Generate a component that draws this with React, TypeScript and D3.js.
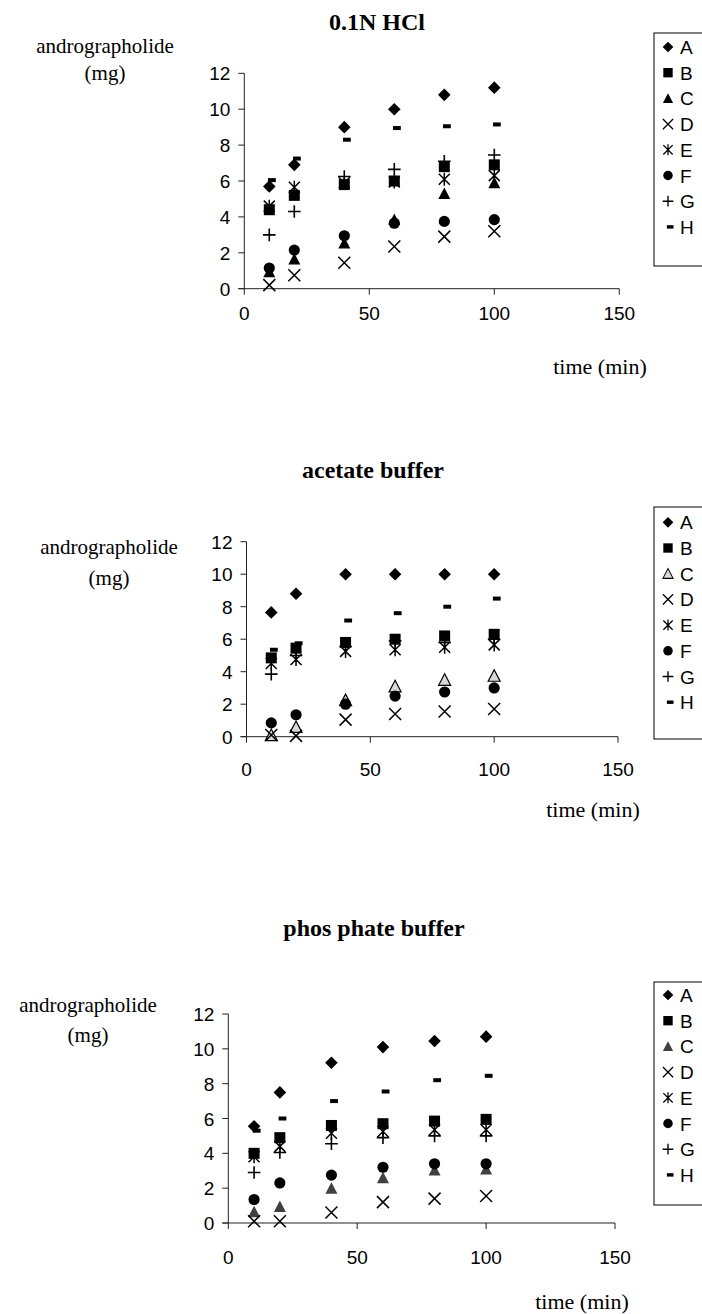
import React from "react";
import * as d3 from "d3";

const TIMES = [10, 20, 40, 60, 80, 100];
const SERIES = ["A", "B", "C", "D", "E", "F", "G", "H"];
const X_TICKS = [0, 50, 100, 150];
const Y_TICKS = [0, 2, 4, 6, 8, 10, 12];

// 0.1N HCl
const HCL_A = [5.7, 6.9, 9.0, 10.0, 10.8, 11.2];
const HCL_B = [4.4, 5.2, 5.8, 6.0, 6.8, 6.9];
const HCL_C = [0.95, 1.65, 2.55, 3.85, 5.3, 5.9];
const HCL_D = [0.2, 0.75, 1.45, 2.35, 2.9, 3.2];
const HCL_E = [4.6, 5.65, 5.9, 5.95, 6.1, 6.3];
const HCL_F = [1.15, 2.15, 2.95, 3.65, 3.75, 3.85];
const HCL_G = [3.0, 4.3, 6.25, 6.65, 7.1, 7.45];
const HCL_H = [6.05, 7.25, 8.3, 8.95, 9.05, 9.15];

// acetate buffer
const ACE_A = [7.65, 8.8, 10.0, 10.0, 10.0, 10.0];
const ACE_B = [4.85, 5.45, 5.8, 6.0, 6.2, 6.3];
const ACE_C = [0.1, 0.6, 2.25, 3.1, 3.5, 3.75];
const ACE_D = [0.1, 0.05, 1.05, 1.4, 1.55, 1.7];
const ACE_E = [4.5, 4.75, 5.25, 5.35, 5.5, 5.65];
const ACE_F = [0.85, 1.35, 2.0, 2.5, 2.75, 3.0];
const ACE_G = [3.85, 5.0, 5.55, 5.9, 5.8, 6.0];
const ACE_H = [5.35, 5.75, 7.15, 7.6, 8.0, 8.5];

// phosphate buffer
const PHO_A = [5.55, 7.5, 9.2, 10.1, 10.45, 10.7];
const PHO_B = [4.0, 4.9, 5.6, 5.7, 5.85, 5.95];
const PHO_C = [0.65, 0.95, 2.0, 2.6, 3.05, 3.1];
const PHO_D = [0.1, 0.1, 0.6, 1.2, 1.4, 1.55];
const PHO_E = [3.8, 4.4, 5.15, 5.25, 5.35, 5.35];
const PHO_F = [1.35, 2.3, 2.75, 3.2, 3.4, 3.4];
const PHO_G = [2.9, 4.05, 4.55, 4.9, 5.0, 5.0];
const PHO_H = [5.3, 6.0, 7.0, 7.55, 8.2, 8.45];

const SERIF = "'Liberation Serif', 'Times New Roman', serif";
const SANS = "'Liberation Sans', Arial, sans-serif";

type Tri = { fill: string; stroke: string };

function Marker({ type, x, y, k = 1, tri }: { type: string; x: number; y: number; k?: number; tri: Tri }) {
  const t = `translate(${x},${y}) scale(${k})`;
  switch (type) {
    case "A":
      return <path transform={t} d="M0,-6.3L6.3,0L0,6.3L-6.3,0Z" fill="#000" />;
    case "B":
      return <rect transform={t} x={-5.5} y={-5.5} width={11} height={11} fill="#000" />;
    case "C":
      return (
        <path
          transform={t}
          d="M0,-6L6,5.5L-6,5.5Z"
          fill={tri.fill}
          stroke={tri.stroke}
          strokeWidth={tri.stroke === "none" ? 0 : 1.2}
        />
      );
    case "D":
      return <path transform={t} d="M-6,-6L6,6M-6,6L6,-6" stroke="#000" strokeWidth={1.5} fill="none" />;
    case "E":
      return (
        <path transform={t} d="M-5.5,-5.5L5.5,5.5M-5.5,5.5L5.5,-5.5M0,-6.5L0,6.5" stroke="#000" strokeWidth={1.5} fill="none" />
      );
    case "F":
      return <circle transform={t} r={5.6} fill="#000" />;
    case "G":
      return <path transform={t} d="M-6.3,0L6.3,0M0,-6.3L0,6.3" stroke="#000" strokeWidth={1.6} fill="none" />;
    case "H":
      return <rect transform={t} x={-1.3} y={-2} width={7.8} height={4} fill="#000" />;
    default:
      return null;
  }
}

type PanelCfg = {
  title: string;
  titleX: number;
  titleY: number;
  yLabX: number;
  yLab1Y: number;
  yLab2Y: number;
  x0: number;
  x150: number;
  y0: number;
  y12: number;
  xTickY: number;
  xTitleX: number;
  xTitleY: number;
  legTop: number;
  legBottom: number;
  legFirst: number;
  tri: Tri;
  data: number[][];
};

const PANELS: PanelCfg[] = [
  {
    title: "0.1N HCl",
    titleX: 377,
    titleY: 30,
    yLabX: 105,
    yLab1Y: 53,
    yLab2Y: 80,
    x0: 244.3,
    x150: 619.3,
    y0: 288.7,
    y12: 73.3,
    xTickY: 320,
    xTitleX: 600,
    xTitleY: 374,
    legTop: 33,
    legBottom: 266,
    legFirst: 47,
    tri: { fill: "#000", stroke: "none" },
    data: [HCL_A, HCL_B, HCL_C, HCL_D, HCL_E, HCL_F, HCL_G, HCL_H],
  },
  {
    title: "acetate buffer",
    titleX: 373,
    titleY: 478,
    yLabX: 109,
    yLab1Y: 554,
    yLab2Y: 585,
    x0: 246.5,
    x150: 618,
    y0: 736.7,
    y12: 541.7,
    xTickY: 776,
    xTitleX: 593,
    xTitleY: 817,
    legTop: 507,
    legBottom: 739,
    legFirst: 522.3,
    tri: { fill: "#d8d8d8", stroke: "#000" },
    data: [ACE_A, ACE_B, ACE_C, ACE_D, ACE_E, ACE_F, ACE_G, ACE_H],
  },
  {
    title: "phos phate buffer",
    titleX: 374,
    titleY: 936,
    yLabX: 88,
    yLab1Y: 1012,
    yLab2Y: 1042,
    x0: 228.3,
    x150: 615,
    y0: 1223,
    y12: 1014,
    xTickY: 1264,
    xTitleX: 582,
    xTitleY: 1309,
    legTop: 982,
    legBottom: 1205,
    legFirst: 995,
    tri: { fill: "#404040", stroke: "none" },
    data: [PHO_A, PHO_B, PHO_C, PHO_D, PHO_E, PHO_F, PHO_G, PHO_H],
  },
];

function Panel({ cfg }: { cfg: PanelCfg }) {
  const x = d3.scaleLinear().domain([0, 150]).range([cfg.x0, cfg.x150]);
  const y = d3.scaleLinear().domain([0, 12]).range([cfg.y0, cfg.y12]);
  const axisColor = "#222";
  const legStep = 25.7;
  return (
    <g>
      <text x={cfg.titleX} y={cfg.titleY} textAnchor="middle" fontFamily={SERIF} fontWeight="bold" fontSize={24} fill="#000">
        {cfg.title}
      </text>
      <text x={cfg.yLabX} y={cfg.yLab1Y} textAnchor="middle" fontFamily={SERIF} fontSize={21} fill="#000">
        andrographolide
      </text>
      <text x={cfg.yLabX} y={cfg.yLab2Y} textAnchor="middle" fontFamily={SERIF} fontSize={21} fill="#000">
        (mg)
      </text>
      {/* y axis */}
      <line x1={x(0)} x2={x(0)} y1={y(0)} y2={y(12)} stroke={axisColor} strokeWidth={1} />
      {Y_TICKS.map((v) => (
        <g key={"y" + v}>
          <line x1={x(0) - 6} x2={x(0)} y1={y(v)} y2={y(v)} stroke={axisColor} strokeWidth={1} />
          <text x={x(0) - 14} y={y(v) + 7} textAnchor="end" fontFamily={SANS} fontSize={19} fill="#000">
            {v}
          </text>
        </g>
      ))}
      {/* x axis */}
      <line x1={x(0) - 6} x2={x(150)} y1={y(0)} y2={y(0)} stroke={axisColor} strokeWidth={1} />
      {X_TICKS.map((v) => (
        <g key={"x" + v}>
          <line x1={x(v)} x2={x(v)} y1={y(0)} y2={y(0) + 6} stroke={axisColor} strokeWidth={1} />
          <text x={x(v)} y={cfg.xTickY} textAnchor="middle" fontFamily={SANS} fontSize={19} fill="#000">
            {v}
          </text>
        </g>
      ))}
      <text x={cfg.xTitleX} y={cfg.xTitleY} textAnchor="middle" fontFamily={SERIF} fontSize={22} fill="#000">
        time (min)
      </text>
      {/* data */}
      {SERIES.map((s, si) => (
        <g key={s}>
          {cfg.data[si].map((v, i) => (
            <Marker key={i} type={s} x={x(TIMES[i])} y={y(v)} tri={cfg.tri} />
          ))}
        </g>
      ))}
      {/* legend */}
      <rect x={654} y={cfg.legTop} width={60} height={cfg.legBottom - cfg.legTop} fill="#fff" stroke="#000" strokeWidth={1} />
      {SERIES.map((s, si) => (
        <g key={"l" + s}>
          <Marker type={s} x={668} y={cfg.legFirst + si * legStep} k={0.85} tri={cfg.tri} />
          <text x={680} y={cfg.legFirst + si * legStep + 7} fontFamily={SANS} fontSize={19} fill="#000">
            {s}
          </text>
        </g>
      ))}
    </g>
  );
}

export default function App() {
  return (
    <svg
      width={702}
      height={1314}
      viewBox="0 0 702 1314"
      style={{ position: "absolute", left: 0, top: 0, background: "#fff" }}
    >
      <rect x={0} y={0} width={702} height={1314} fill="#fff" />
      {PANELS.map((p, i) => (
        <Panel key={i} cfg={p} />
      ))}
    </svg>
  );
}
